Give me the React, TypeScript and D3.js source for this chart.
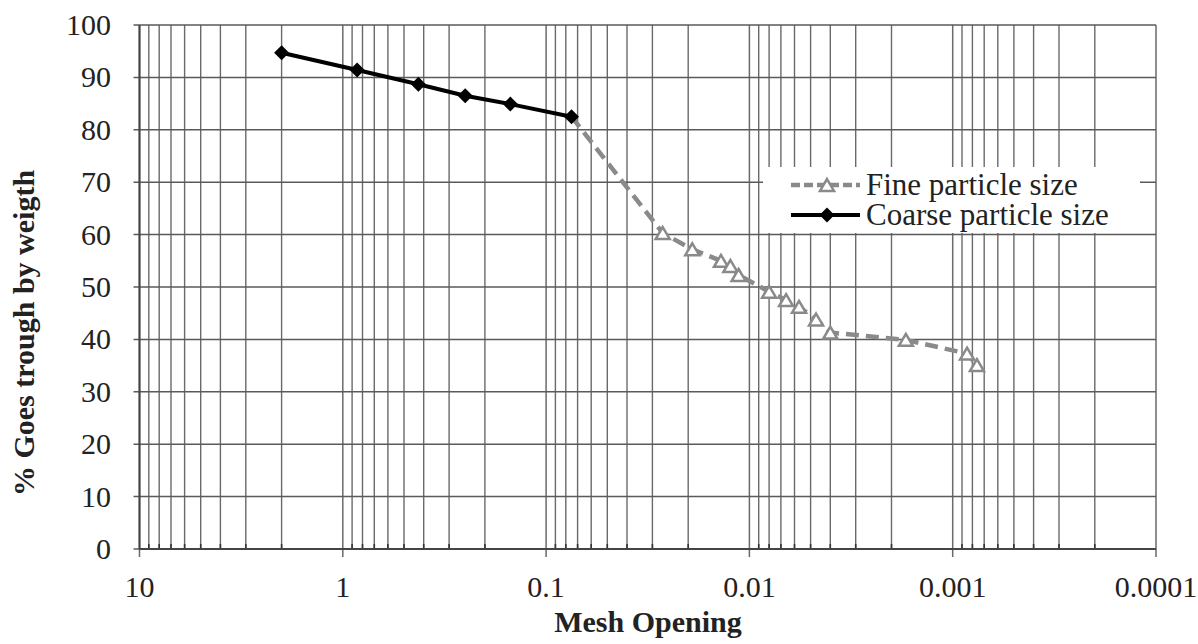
import React from "react";
import * as d3 from "d3";

// Sieve analysis: mesh opening (mm) vs. % passing by weight
const coarseOpening = [2.0, 0.85, 0.425, 0.25, 0.15, 0.075];
const coarsePassing = [94.7, 91.4, 88.7, 86.5, 84.9, 82.5];

const fineOpening = [0.075, 0.0267, 0.0191, 0.0138, 0.0124, 0.0113, 0.008, 0.0066, 0.0057, 0.0047, 0.004, 0.0017, 0.00085, 0.00076];
const finePassing = [82.5, 60.3, 57.2, 55.0, 54.0, 52.3, 49.1, 47.5, 46.2, 43.8, 41.3, 39.9, 37.3, 35.1];

const xMajorTicks = [10, 1, 0.1, 0.01, 0.001, 0.0001];
const xTickLabels = ["10", "1", "0.1", "0.01", "0.001", "0.0001"];
const yTicks = [0, 10, 20, 30, 40, 50, 60, 70, 80, 90, 100];

const seriesNames = ["Fine particle size", "Coarse particle size"];

const W = 1198;
const H = 644;
const left = 139.5;
const right = 1156;
const top = 25;
const bottom = 549;

const FONT = "Liberation Serif";
const GRID = "#6a6a6a";
const FINE = "#8a8a8a";

function triangle(cx: number, cy: number, s = 7) {
  return `M${cx},${cy - s * 0.85} L${cx + s},${cy + s * 0.85} L${cx - s},${cy + s * 0.85} Z`;
}
function diamond(cx: number, cy: number, s = 7.5) {
  return `M${cx},${cy - s} L${cx + s},${cy} L${cx},${cy + s} L${cx - s},${cy} Z`;
}

export default function App() {
  const x = d3.scaleLog().domain([10, 0.0001]).range([left, right]);
  const y = d3.scaleLinear().domain([0, 100]).range([bottom, top]);

  // minor lines: 2..9 times each decade
  const minor: number[] = [];
  for (let e = -4; e <= 0; e++) {
    const base = Math.pow(10, e);
    for (let k = 2; k <= 9; k++) minor.push(+(k * base).toPrecision(3));
  }

  const line = d3
    .line<[number, number]>()
    .x((d) => x(d[0]))
    .y((d) => y(d[1]));

  const fine: [number, number][] = fineOpening.map((v, i) => [v, finePassing[i]]);
  const coarse: [number, number][] = coarseOpening.map((v, i) => [v, coarsePassing[i]]);

  const legX0 = 791;
  const legX1 = 860;
  const legMid = 827;
  const legY1 = 185;
  const legY2 = 215;

  return (
    <div style={{ position: "absolute", left: 0, top: 0 }}>
      <svg width={W} height={H} style={{ display: "block", background: "#fff" }}>
        <rect x={0} y={0} width={W} height={H} fill="#fff" />

        {/* vertical minor grid */}
        {minor.map((v) => (
          <g key={"m" + v}>
            <line x1={x(v)} x2={x(v)} y1={top} y2={bottom} stroke={GRID} strokeWidth={1.4} />
            <line x1={x(v)} x2={x(v)} y1={bottom - 5} y2={bottom} stroke="#333" strokeWidth={1.6} />
          </g>
        ))}
        {/* vertical major grid */}
        {xMajorTicks.map((v) => (
          <line key={"M" + v} x1={x(v)} x2={x(v)} y1={top} y2={bottom + 8} stroke={GRID} strokeWidth={1.5} />
        ))}
        {/* horizontal grid */}
        {yTicks.map((v) => (
          <line key={"h" + v} x1={left - 6} x2={right} y1={y(v)} y2={y(v)} stroke="#5a5a5a" strokeWidth={1.5} />
        ))}
        {/* axes */}
        <line x1={left} x2={left} y1={top} y2={bottom} stroke="#444" strokeWidth={2} />
        <line x1={left} x2={right} y1={bottom} y2={bottom} stroke="#444" strokeWidth={2} />

        {/* fine fraction */}
        <path d={line(fine) || ""} fill="none" stroke={FINE} strokeWidth={4.5} strokeDasharray="13 7" />
        {fine.slice(1).map((d, i) => (
          <path key={"t" + i} d={triangle(x(d[0]), y(d[1]))} fill="#fff" stroke={FINE} strokeWidth={2.5} />
        ))}

        {/* coarse fraction */}
        <path d={line(coarse) || ""} fill="none" stroke="#000" strokeWidth={4} />
        {coarse.map((d, i) => (
          <path key={"d" + i} d={diamond(x(d[0]), y(d[1]))} fill="#000" />
        ))}

        {/* legend */}
        <rect x={763} y={167} width={377} height={66} fill="#fff" />
        <line x1={legX0} x2={legX1} y1={legY1} y2={legY1} stroke={FINE} strokeWidth={4.5} strokeDasharray="9 4" />
        <path d={triangle(legMid, legY1)} fill="#fff" stroke={FINE} strokeWidth={2.5} />
        <text x={866} y={195} fontFamily={FONT} fontSize={31} fill="#222">{seriesNames[0]}</text>
        <line x1={legX0} x2={legX1} y1={legY2} y2={legY2} stroke="#000" strokeWidth={4} />
        <path d={diamond(legMid, legY2)} fill="#000" />
        <text x={866} y={225} fontFamily={FONT} fontSize={31} fill="#222">{seriesNames[1]}</text>

        {/* tick labels */}
        {xMajorTicks.map((v, i) => (
          <text key={"xl" + v} x={x(v)} y={597} textAnchor="middle" fontFamily={FONT} fontSize={30} fill="#222">
            {xTickLabels[i]}
          </text>
        ))}
        {yTicks.map((v) => (
          <text key={"yl" + v} x={111} y={y(v) + 10} textAnchor="end" fontFamily={FONT} fontSize={30} fill="#222">
            {v}
          </text>
        ))}

        {/* axis titles */}
        <text x={648} y={632} textAnchor="middle" fontFamily={FONT} fontSize={30} fontWeight="bold" fill="#222">
          Mesh Opening
        </text>
        <text
          transform={`translate(34,333) rotate(-90)`}
          textAnchor="middle"
          fontFamily={FONT}
          fontSize={30}
          fontWeight="bold"
          fill="#222"
        >
          % Goes trough by weigth
        </text>
      </svg>
    </div>
  );
}
